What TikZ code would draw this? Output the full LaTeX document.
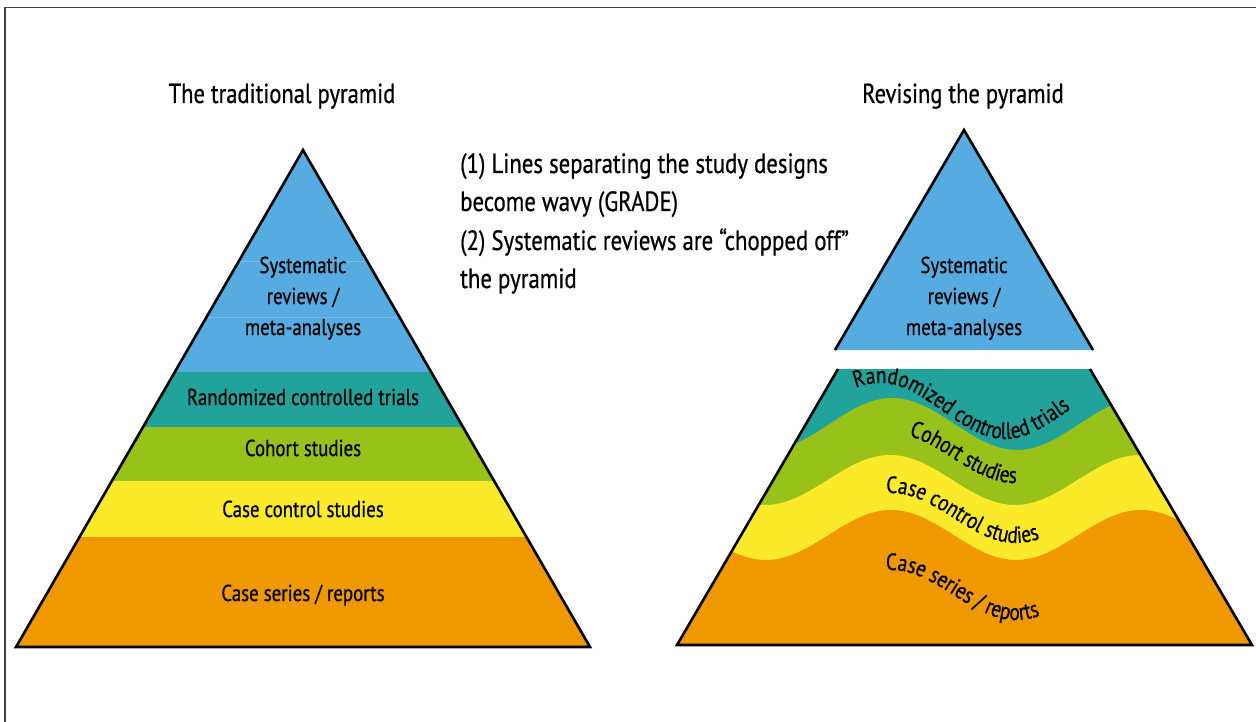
\documentclass[tikz,border=0pt]{standalone}
\usepackage{fontspec}
\setmainfont{PT Sans}[FakeStretch=0.82,FakeBold=0.6]
\usetikzlibrary{decorations.text}
\definecolor{pblue}{HTML}{56ACE0}
\definecolor{pteal}{HTML}{21A39B}
\definecolor{pgreen}{HTML}{98C11A}
\definecolor{pyellow}{HTML}{FAEA2A}
\definecolor{porange}{HTML}{F09800}
\definecolor{pline}{HTML}{76BEE9}
\newcommand\curvefont{\fontsize{23.5}{28}\selectfont}
\begin{document}
\begin{tikzpicture}[x=1pt,y=-1pt,
  outl/.style={line width=2.6pt, line join=miter, line cap=butt},
  lbl/.style={font=\fontsize{23}{32}\selectfont, inner sep=0pt, anchor=base},
  ttl/.style={font=\fontsize{27.5}{38}\selectfont, inner sep=0pt, anchor=base},
  note/.style={font=\fontsize{27.8}{38}\selectfont, inner sep=0pt, anchor=base west},
  curved/.style={decorate, decoration={text along path, text align=center, text={|\curvefont|#1}}}]
\useasboundingbox (0,0) rectangle (1256,722);
\fill[white] (0,0) rectangle (1256,722);
% frame
\draw[line width=1.2pt, black!75] (5,722) -- (5,7.5) -- (1256,7.5);

% ---------- left pyramid ----------
\coordinate (LA) at (303,150);
\coordinate (LL) at (16,647);
\coordinate (LR) at (590,647);
\begin{scope}
  \clip (LA) -- (LR) -- (LL) -- cycle;
  \fill[pblue]   (0,140) rectangle (600,372);
  \fill[pteal]   (0,372) rectangle (600,427);
  \fill[pgreen]  (0,427) rectangle (600,481);
  \fill[pyellow] (0,481) rectangle (600,537);
  \fill[porange] (0,537) rectangle (600,650);
  \draw[pline, line width=0.8pt] (0,261) -- (600,261) (0,317) -- (600,317);
\end{scope}
\draw[outl] (LA) -- (LR) -- (LL) -- cycle;

\node[ttl] (lt) at (282,103) {The traditional pyramid};
\node[lbl] (ls1) at (303,273) {Systematic};
\node[lbl] (ls2) at (303,304) {reviews /};
\node[lbl] (ls3) at (303,335) {meta-analyses};
\node[lbl] (lrct) at (303,405) {Randomized controlled trials};
\node[lbl] (lcoh) at (303,456) {Cohort studies};
\node[lbl] (lcc) at (303,517) {Case control studies};
\node[lbl] (lcs) at (303,601) {Case series / reports};

% ---------- middle note ----------
\node[note] (n1) at (460,173) {(1) Lines separating the study designs};
\node[note] (n2) at (460,211) {become wavy (GRADE)};
\node[note] (n3) at (460,250) {(2) Systematic reviews are “chopped off”};
\node[note] (n4) at (460,288) {the pyramid};

% ---------- right pyramid ----------
\node[ttl] (rt) at (963,103) {Revising the pyramid};
\coordinate (RA) at (964,130);
\coordinate (RBL) at (835,350);
\coordinate (RBR) at (1093,350);
\fill[pblue] (RA) -- (RBR) -- (RBL) -- cycle;
\draw[outl] (RBL) -- (RA) -- (RBR);
\node[lbl] (rs1) at (964,273) {Systematic};
\node[lbl] (rs2) at (964,304) {reviews /};
\node[lbl] (rs3) at (964,335) {meta-analyses};

\coordinate (TL) at (838,369);
\coordinate (TR) at (1090,369);
\coordinate (BL) at (677,645);
\coordinate (BR) at (1252,645);
\begin{scope}
  \clip (TL) -- (TR) -- (BR) -- (BL) -- cycle;
  \fill[pteal] (660,360) rectangle (1260,650);
  \fill[pgreen] plot[domain=660:1260, samples=150] (\x,{424+26*cos(1.44*(\x-1017))}) -- (1260,650) -- (660,650) -- cycle;
  \fill[pyellow] plot[domain=660:1260, samples=150] (\x,{480+25*cos(1.44*(\x-1015))}) -- (1260,650) -- (660,650) -- cycle;
  \fill[porange] plot[domain=660:1260, samples=150] (\x,{535+25*cos(1.44*(\x-1016))}) -- (1260,650) -- (660,650) -- cycle;
\end{scope}
\draw[outl] (TL) -- (BL) -- (BR) -- (TR);

\path[curved={Randomized controlled trials}] plot[domain=826:1100, samples=80] (\x,{411+28*cos(1.44*(\x-1005))});
\path[curved={Cohort studies}] plot[domain=885:1040, samples=80] (\x,{480+25*cos(1.44*(\x-1015))-22});
\path[curved={Case control studies}] plot[domain=870:1055, samples=80] (\x,{535+25*cos(1.44*(\x-1016))-17});
\path[curved={Case series / reports}] plot[domain=870:1055, samples=80] (\x,{535+25*cos(1.44*(\x-1016))+60});
\end{tikzpicture}
\end{document}
